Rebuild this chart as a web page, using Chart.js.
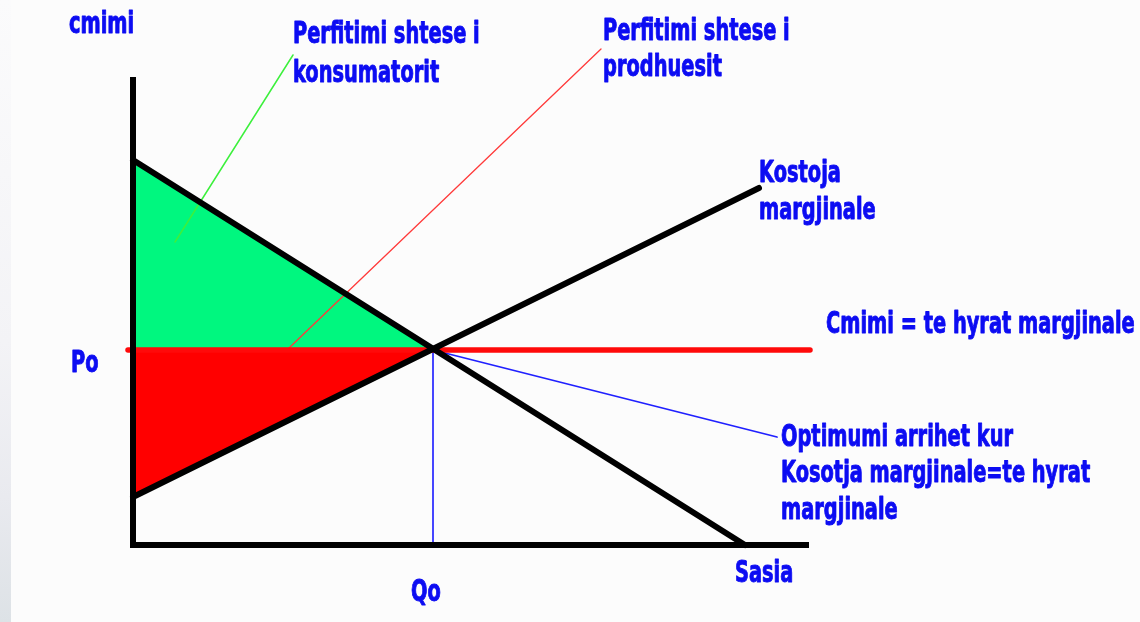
<!DOCTYPE html>
<html>
<head>
<meta charset="utf-8">
<script src="https://cdn.jsdelivr.net/npm/chart.js@4.4.1/dist/chart.umd.min.js"></script>
<style>
    html, body { margin: 0; padding: 0; }
    body {
        width: 1140px; height: 622px; overflow: hidden;
        background: #fcfcfc;
    }
    #strip {
        position: absolute; left: 0; top: 0; width: 11px; height: 622px;
        background: linear-gradient(to bottom, #fbfbfc 0%, #f3f3f6 55%, #e9eaef 80%, #dde2e6 100%);
    }
    #wrap { position: absolute; left: 0; top: 0; width: 1140px; height: 622px; }
</style>
</head>
<body>
<div id="strip"></div>
<div id="wrap"><canvas id="c"></canvas></div>
<script>
// quantity (Sasia) / price (cmimi) in arbitrary units, origin at the axes corner
var Q0 = 30;
var P0 = 19.5;

var axisQ = [0, 0, 67.3];
var axisP = [46.5, 0, 0];

var demandQ = [0, 61.2];
var demandP = [38.5, 0];

var costQ = [0, 62.6];
var costP = [4.8, 35.7];

var priceQ = [-0.5, 67.7];
var priceP = [P0, P0];

var consumerQ = [0, 0, Q0];
var consumerP = [38.5, P0, P0];

var producerQ = [0, 0, Q0];
var producerP = [P0, 4.8, P0];

var greenPtrQ = [4.2, 16.0];
var greenPtrP = [30.3, 49.0];

var redPtrQ = [15.6, 46.8];
var redPtrP = [19.7, 49.6];

var optimumPtrQ = [Q0, 64.4];
var optimumPtrP = [P0, 10.8];

var q0LineQ = [Q0, Q0];
var q0LineP = [P0, 0];

var labelTexts = [
    'cmimi', 'Perfitimi shtese i', 'konsumatorit', 'Perfitimi shtese i', 'prodhuesit',
    'Kostoja', 'margjinale', 'Cmimi = te hyrat margjinale', 'Po',
    'Optimumi arrihet kur', 'Kosotja margjinale=te hyrat', 'margjinale', 'Qo', 'Sasia'
];
var labelQ = [-6.4, 16.0, 16.0, 47.0, 47.0, 62.6, 62.6, 69.3, -6.2, 64.8, 64.8, 64.8, 27.8, 60.2];
var labelP = [51.2, 50.2, 46.3, 50.5, 46.9, 36.3, 32.6, 21.2, 17.3, 9.9, 6.3, 2.6, -5.6, -3.7];

function pts(xs, ys) {
    return xs.map(function (x, i) { return { x: x, y: ys[i] }; });
}

function seg(xs, ys, color, width, order, cap) {
    return {
        data: pts(xs, ys),
        showLine: true,
        borderColor: color,
        borderWidth: width,
        borderCapStyle: cap || 'round',
        borderJoinStyle: 'miter',
        pointRadius: 0,
        fill: false,
        clip: false,
        order: order
    };
}

function area(xs, ys, color) {
    return {
        data: pts(xs, ys),
        showLine: true,
        borderWidth: 0,
        borderColor: 'rgba(0,0,0,0)',
        backgroundColor: color,
        pointRadius: 0,
        fill: 'shape',
        clip: false,
        order: 10
    };
}

// narrow, tall lettering like the original drawing
var labelsPlugin = {
    id: 'labels',
    afterDatasetsDraw: function (chart) {
        var ctx = chart.ctx;
        var xs = chart.scales.x;
        var ys = chart.scales.y;
        ctx.save();
        ctx.fillStyle = '#0c0cf2';
        ctx.strokeStyle = '#0c0cf2';
        ctx.lineWidth = 0.9;
        ctx.lineJoin = 'round';
        ctx.font = 'bold 28px "DejaVu Sans Condensed", sans-serif';
        ctx.textBaseline = 'alphabetic';
        ctx.textAlign = 'left';
        labelTexts.forEach(function (t, i) {
            ctx.save();
            ctx.translate(xs.getPixelForValue(labelQ[i]), ys.getPixelForValue(labelP[i]));
            ctx.scale(0.77, 1.05);
            ctx.fillText(t, 0, 0);
            ctx.strokeText(t, 0, 0);
            ctx.restore();
        });
        ctx.restore();
    }
};

new Chart(document.getElementById('c').getContext('2d'), {
    type: 'scatter',
    data: {
        datasets: [
            area(consumerQ, consumerP, '#00f77f'),
            area(producerQ, producerP, '#ff0000'),
            seg(greenPtrQ, greenPtrP, '#3cf03c', 1.5, 5),
            seg(redPtrQ, redPtrP, '#ff3a3a', 1.3, 5),
            seg(q0LineQ, q0LineP, '#0a0aff', 1.5, 4),
            seg(optimumPtrQ, optimumPtrP, '#2020ff', 1.8, 4),
            seg(priceQ, priceP, '#ff0a0a', 5.5, 3),
            seg(demandQ, demandP, '#000000', 6, 2),
            seg(costQ, costP, '#000000', 6, 2),
            seg(axisQ, axisP, '#000000', 6, 1, 'square')
        ]
    },
    options: {
        responsive: true,
        maintainAspectRatio: false,
        animation: false,
        layout: { padding: 0 },
        plugins: {
            legend: { display: false },
            tooltip: { enabled: false }
        },
        scales: {
            x: { type: 'linear', display: false, min: -13.3, max: 100.7 },
            y: { type: 'linear', display: false, min: -7.7, max: 54.5 }
        }
    },
    plugins: [labelsPlugin]
});
</script>
</body>
</html>
